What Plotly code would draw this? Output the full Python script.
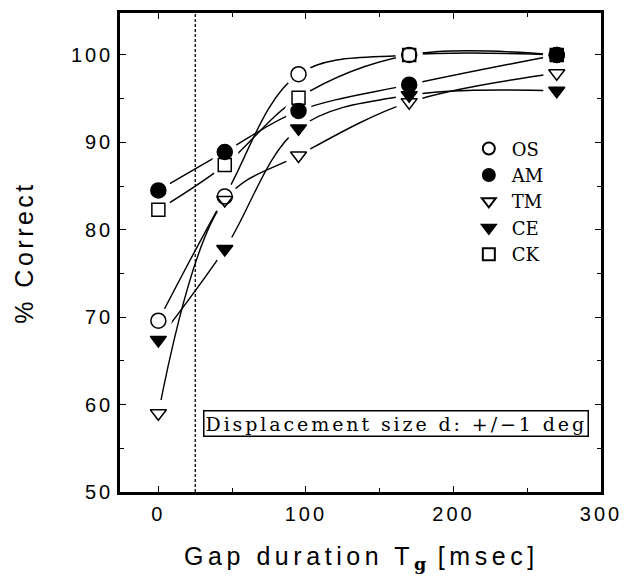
import plotly.graph_objects as go

gap_ms = [0, 45, 95, 170, 270]
subjects = ["OS", "AM", "TM", "CE", "CK"]
os_vals = [69.6, 83.8, 97.8, 100.0, 100.0]
am_vals = [84.5, 88.9, 93.6, 96.6, 100.0]
tm_vals = [59.0, 83.4, 88.5, 94.6, 97.9]
ce_vals = [67.4, 77.8, 91.6, 95.4, 95.9]
ck_vals = [82.3, 87.4, 95.1, 100.0, 100.0]
x_ticks = [0, 100, 200, 300]
y_ticks = [50, 60, 70, 80, 90, 100]

series = {"OS": os_vals, "AM": am_vals, "TM": tm_vals, "CE": ce_vals, "CK": ck_vals}
symbols = {"OS": "circle-open", "AM": "circle", "TM": "triangle-down-open",
           "CE": "triangle-down", "CK": "square-open"}
sizes = {"OS": 15, "AM": 15, "TM": 14, "CE": 14, "CK": 13}
draw_order = ["CK", "OS", "TM", "CE", "AM"]

SERIF = "DejaVu Serif"
SANS = "Liberation Sans"
X_RANGE = [-26, 300]
Y_RANGE = [50, 104.8]


def spaced(t, px):
    return "<span style='letter-spacing:%spx'>%s</span>" % (px, t)


fig = go.Figure()

# curves (base subplot)
for name in subjects:
    fig.add_trace(go.Scatter(x=gap_ms, y=series[name], mode="lines",
                             line=dict(color="black", width=1.4, shape="spline", smoothing=1.0),
                             showlegend=False, hoverinfo="skip"))
# white halos around markers on an overlaid subplot (gap between line and symbol)
for name in subjects:
    fig.add_trace(go.Scatter(x=gap_ms, y=series[name], mode="markers",
                             xaxis="x2", yaxis="y2",
                             marker=dict(symbol="circle", size=27, color="white",
                                         line=dict(width=0)),
                             showlegend=False, hoverinfo="skip"))
# markers
for name in draw_order:
    fig.add_trace(go.Scatter(x=gap_ms, y=series[name], mode="markers", name=name,
                             xaxis="x2", yaxis="y2",
                             legendrank=subjects.index(name) + 1,
                             marker=dict(symbol=symbols[name], size=sizes[name], color="black",
                                         line=dict(color="black", width=1.5))))

fig.add_shape(type="line", x0=25, x1=25, y0=0, y1=1, xref="x", yref="paper",
              line=dict(color="black", width=1.3, dash="3px,2px"))

fig.add_annotation(x=30.5, y=57.8, xref="x", yref="y", xanchor="left", yanchor="middle",
                   text=spaced("Displacement size d: +/\u22121 deg", 2.9), showarrow=False,
                   font=dict(family=SERIF, size=19, color="black"),
                   bordercolor="black", borderwidth=1.5, borderpad=1, bgcolor="white")

# x-axis title
fig.add_annotation(x=0.502, y=-0.1, xref="paper", yref="paper", xanchor="center", yanchor="top",
                   text=spaced("Gap duration T", 4.55) +
                   "<sub><b><span style='font-family:DejaVu Serif'>g</span></b></sub>" +
                   spaced(" [msec]", 4.55), showarrow=False,
                   font=dict(family=SANS, size=25, color="black"))

axis_common = dict(showgrid=False, zeroline=False, showline=True, linecolor="black",
                   linewidth=2.5, mirror="ticks", ticks="inside", ticklen=6,
                   tickwidth=1.2, tickcolor="black",
                   tickfont=dict(family=SANS, size=20, color="black"))

fig.update_layout(
    xaxis=dict(range=X_RANGE, tickvals=x_ticks,
               ticktext=[spaced(str(v), 3) for v in x_ticks], ticklabelstandoff=2,
               minor=dict(tickvals=[50, 150, 250], ticks="inside", ticklen=4,
                          tickcolor="black", tickwidth=1.2),
               **axis_common),
    yaxis=dict(range=Y_RANGE, tickvals=y_ticks,
               ticktext=[spaced(str(v), 3) for v in y_ticks], ticklabelstandoff=0,
               minor=dict(tickvals=[55, 65, 75, 85, 95], ticks="inside", ticklen=4,
                          tickcolor="black", tickwidth=1.2),
               title=dict(text=spaced("% Correct", 3.5),
                          font=dict(family=SANS, size=25, color="black"), standoff=31),
               **axis_common),
    xaxis2=dict(range=X_RANGE, overlaying="x", visible=False),
    yaxis2=dict(range=Y_RANGE, overlaying="y", visible=False),
    width=623, height=576,
    margin=dict(l=112, r=30, t=2, b=92),
    plot_bgcolor="white", paper_bgcolor="white",
    legend=dict(x=0.719, y=0.755, xanchor="left", yanchor="top",
                font=dict(family=SERIF, size=18, color="black"),
                bgcolor="rgba(0,0,0,0)", itemsizing="constant", itemwidth=36),
)

fig.write_html("out.html")
